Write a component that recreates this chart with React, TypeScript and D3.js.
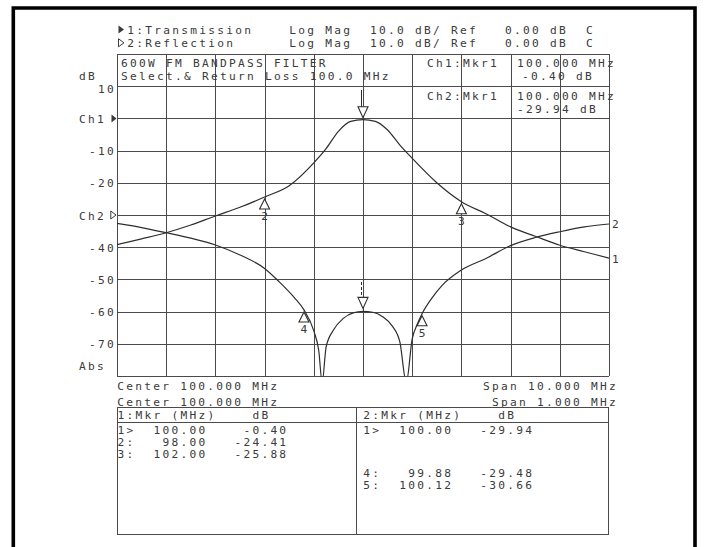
import React from 'react';
import * as d3 from 'd3';

const W = 704;
const H = 547;

// Channel 1: Transmission, center 100 MHz, span 10 MHz
const ch1Freq = [95.0, 95.5, 96.0, 96.5, 97.0, 97.5, 98.0, 98.5, 99.0, 99.25, 99.5, 99.75, 100.0, 100.25, 100.5, 100.75, 101.0, 101.5, 102.0, 102.5, 103.0, 103.5, 104.0, 104.5, 105.0];
const ch1Db = [-39.2, -37.4, -35.5, -33.1, -30.3, -27.6, -24.41, -20.9, -13.8, -9.4, -4.0, -0.9, -0.4, -0.9, -3.6, -8.3, -12.4, -20.0, -25.88, -29.6, -33.7, -36.6, -39.4, -41.4, -43.4];

// Channel 2: Reflection, center 100 MHz, span 1 MHz (reference position at -30 div line)
const ch2Freq = [99.5, 99.55, 99.6, 99.65, 99.7, 99.75, 99.8, 99.83, 99.86, 99.88, 99.9, 99.91, 99.917, 99.925, 99.94, 99.96, 99.98, 100.0, 100.02, 100.04, 100.06, 100.075, 100.088, 100.1, 100.11, 100.12, 100.14, 100.16, 100.2, 100.25, 100.3, 100.35, 100.4, 100.45, 100.5];
const ch2Db = [-2.6, -3.9, -5.5, -7.2, -9.3, -12.4, -16.6, -20.8, -25.6, -29.48, -36.0, -42.0, -52.0, -41.0, -35.7, -32.1, -30.4, -29.94, -30.2, -31.6, -34.6, -39.5, -52.0, -38.5, -34.0, -30.66, -25.8, -22.0, -17.1, -13.5, -9.5, -7.0, -5.2, -3.7, -2.8];

// Markers
const ch1ActiveMarker = { f: 100.0, db: -0.4 };
const ch1MarkerIds = ['2', '3'];
const ch1MarkerFreq = [98.0, 102.0];
const ch1MarkerDb = [-24.41, -25.88];
const ch2ActiveMarker = { f: 100.0, db: -29.94 };
const ch2MarkerIds = ['4', '5'];
const ch2MarkerFreq = [99.88, 100.12];
const ch2MarkerDb = [-29.48, -30.66];

// Axis labels
const yLabelValues = [10, 0, -10, -20, -30, -40, -50, -60, -70];
const yLabelTexts = ['10', 'Ch1', '-10', '-20', 'Ch2', '-40', '-50', '-60', '-70'];

// Texts
const headerLine1 = '1:Transmission    Log Mag  10.0 dB/ Ref   0.00 dB  C';
const headerLine2 = '2:Reflection      Log Mag  10.0 dB/ Ref   0.00 dB  C';
const titleLine1 = '600W FM BANDPASS FILTER';
const titleLine2 = 'Select.& Return Loss 100.0 MHz';
const mkrCh1Label = 'Ch1:Mkr1';
const mkrCh1Freq = '100.000 MHz';
const mkrCh1Val = '-0.40 dB';
const mkrCh2Label = 'Ch2:Mkr1';
const mkrCh2Freq = '100.000 MHz';
const mkrCh2Val = '-29.94 dB';
const centerTexts = ['Center 100.000 MHz', 'Center 100.000 MHz'];
const spanTexts = ['Span 10.000 MHz', 'Span 1.000 MHz'];
const table1Lines = ['1:Mkr (MHz)    dB', '1>  100.00    -0.40', '2:   98.00   -24.41', '3:  102.00   -25.88'];
const table1Baselines = [419, 433.5, 445.8, 458];
const table2Lines = ['2:Mkr (MHz)    dB', '1>  100.00   -29.94', '4:   99.88   -29.48', '5:  100.12   -30.66'];
const table2Baselines = [419, 433.5, 476.5, 488.8];

const FONT = '"DejaVu Sans Mono", monospace';
const FS = 11.2;
const PITCH = 9;
const LS = PITCH - FS * 0.602;
const INK = '#3a3a3a';

const PL = 117, PR = 609, PT = 54, PB = 376;

function T({ x, y, s, anchor = 'start', ls = LS }: { x: number; y: number; s: string; anchor?: string; ls?: number }) {
  return (
    <text
      x={x}
      y={y}
      xmlSpace="preserve"
      textAnchor={anchor}
      style={{ whiteSpace: 'pre', letterSpacing: `${ls}px` }}
      fontFamily={FONT}
      fontSize={FS}
      fill={INK}
    >
      {s}
    </text>
  );
}

export default function App() {
  const x1 = d3.scaleLinear().domain([95, 105]).range([PL, PR]);
  const x2 = d3.scaleLinear().domain([99.5, 100.5]).range([PL, PR]);
  const y1 = d3.scaleLinear().domain([-80, 20]).range([PB, PT]);
  const y2 = d3.scaleLinear().domain([-50, 50]).range([PB, PT]);

  const line1 = d3
    .line<number>()
    .x((_, i) => x1(ch1Freq[i]))
    .y((d) => y1(d))
    .curve(d3.curveMonotoneX);
  const line2 = d3
    .line<number>()
    .x((_, i) => x2(ch2Freq[i]))
    .y((d) => y2(d))
    .curve(d3.curveMonotoneX);

  const xGrid = x1.ticks(10);
  const yGrid = y1.ticks(10);

  const upTri = (cx: number, tipY: number) => `M${cx},${tipY} L${cx - 5},${tipY + 10} L${cx + 5},${tipY + 10} Z`;
  const downTri = (cx: number, tipY: number) => `M${cx},${tipY} L${cx - 5},${tipY - 11} L${cx + 5},${tipY - 11} Z`;

  const ch1Markers = ch1MarkerIds.map((id, i) => ({ id, x: x1(ch1MarkerFreq[i]), y: y1(ch1MarkerDb[i]) }));
  const ch2Markers = ch2MarkerIds.map((id, i) => ({ id, x: x2(ch2MarkerFreq[i]), y: y2(ch2MarkerDb[i]) }));

  return (
    <svg width={W} height={H} style={{ position: 'absolute', left: 0, top: 0, background: '#fff' }}>
      <rect x={0} y={0} width={W} height={H} fill="#fff" />
      {/* outer frame */}
      <path d={`M13.3,${H} V8 H695 V${H}`} fill="none" stroke="#000" strokeWidth={3.6} />

      {/* header */}
      <path d="M118.5,25.5 L124,29.5 L118.5,33.5 Z" fill={INK} />
      <path d="M118.5,38.8 L124,42.8 L118.5,46.8 Z" fill="none" stroke={INK} strokeWidth={1} />
      <T x={127.3} y={33.5} s={headerLine1} />
      <T x={127.3} y={46.8} s={headerLine2} />

      {/* grid */}
      <g stroke="#4a4a4a" strokeWidth={1} shapeRendering="crispEdges">
        {xGrid.map((f) => (
          <line key={'x' + f} x1={Math.round(x1(f)) + 0.5} x2={Math.round(x1(f)) + 0.5} y1={PT} y2={PB} />
        ))}
        {yGrid.map((v) => (
          <line key={'y' + v} x1={PL} x2={PR} y1={Math.round(y1(v)) + 0.5} y2={Math.round(y1(v)) + 0.5} />
        ))}
      </g>

      {/* annotation texts inside grid */}
      <T x={121} y={67} s={titleLine1} />
      <T x={121} y={79.5} s={titleLine2} />
      <T x={427} y={67} s={mkrCh1Label} />
      <T x={517} y={67} s={mkrCh1Freq} />
      <T x={522} y={79.5} s={mkrCh1Val} />
      <T x={427} y={100} s={mkrCh2Label} />
      <T x={517} y={100} s={mkrCh2Freq} />
      <T x={517} y={112.5} s={mkrCh2Val} />

      {/* y labels */}
      <T x={79} y={80} s="dB" />
      {yLabelValues.map((v, i) => {
        const t = yLabelTexts[i];
        const yy = y1(v);
        if (t.startsWith('Ch')) {
          return <T key={t} x={79} y={yy + 4.5} s={t} />;
        }
        return <T key={t} x={116 - PITCH * t.length} y={v === 10 ? yy + 6.8 : yy + 4.5} s={t} />;
      })}
      <path d={`M111.5,${y1(0) - 4} L116.5,${y1(0)} L111.5,${y1(0) + 4} Z`} fill={INK} />
      <path d={`M110.8,${y1(-30) - 4} L116,${y1(-30)} L110.8,${y1(-30) + 4} Z`} fill="none" stroke={INK} strokeWidth={1} />
      <T x={79} y={369.5} s="Abs" />

      {/* traces */}
      <defs>
        <clipPath id="plotClip">
          <rect x={PL} y={PT} width={PR - PL} height={PB - PT + 0.5} />
        </clipPath>
      </defs>
      <g clipPath="url(#plotClip)" fill="none" stroke="#2e2e2e" strokeWidth={1.2}>
        <path d={line1(ch1Db) || ''} />
        <path d={line2(ch2Db) || ''} />
      </g>
      <T x={612} y={263} s="1" ls={0} />
      <T x={612} y={228} s="2" ls={0} />

      {/* markers */}
      <g fill="#fff" stroke="#2e2e2e" strokeWidth={1.1}>
        <path d={downTri(x1(ch1ActiveMarker.f), y1(ch1ActiveMarker.db) - 2)} />
        <path d={downTri(x2(ch2ActiveMarker.f), y2(ch2ActiveMarker.db) - 3)} />
        {ch1Markers.map((m) => (
          <path key={'m1' + m.id} d={upTri(m.x, m.y + 2)} />
        ))}
        {ch2Markers.map((m) => (
          <path key={'m2' + m.id} d={upTri(m.x, m.y + 2)} />
        ))}
      </g>
      <g stroke="#2e2e2e" strokeWidth={1}>
        <line x1={x1(ch1ActiveMarker.f) - 1.5} x2={x1(ch1ActiveMarker.f) - 1.5} y1={90} y2={y1(ch1ActiveMarker.db) - 13} />
        <line x1={x2(ch2ActiveMarker.f) - 1.5} x2={x2(ch2ActiveMarker.f) - 1.5} y1={282} y2={y2(ch2ActiveMarker.db) - 14} strokeDasharray="3,2" />
      </g>
      {ch1Markers.map((m) => (
        <T key={'l1' + m.id} x={m.x} y={m.y + 23} s={m.id} anchor="middle" ls={0} />
      ))}
      {ch2Markers.map((m) => (
        <T key={'l2' + m.id} x={m.x} y={m.y + 23} s={m.id} anchor="middle" ls={0} />
      ))}

      {/* bottom annotations */}
      <T x={117.3} y={390} s={centerTexts[0]} />
      <T x={117.3} y={406} s={centerTexts[1]} />
      <T x={616 - PITCH * spanTexts[0].length + 2} y={390} s={spanTexts[0]} />
      <T x={616 - PITCH * spanTexts[1].length + 2} y={406} s={spanTexts[1]} />

      {/* marker tables */}
      <g fill="none" stroke="#4a4a4a" strokeWidth={1} shapeRendering="crispEdges">
        <rect x={117.5} y={407.5} width={491} height={127} />
        <line x1={117} x2={609} y1={422.5} y2={422.5} />
        <line x1={356.5} x2={356.5} y1={407} y2={535} />
      </g>
      {table1Lines.map((s, i) => (
        <T key={'t1' + i} x={117.5} y={table1Baselines[i]} s={s} />
      ))}
      {table2Lines.map((s, i) => (
        <T key={'t2' + i} x={363.3} y={table2Baselines[i]} s={s} />
      ))}
    </svg>
  );
}
